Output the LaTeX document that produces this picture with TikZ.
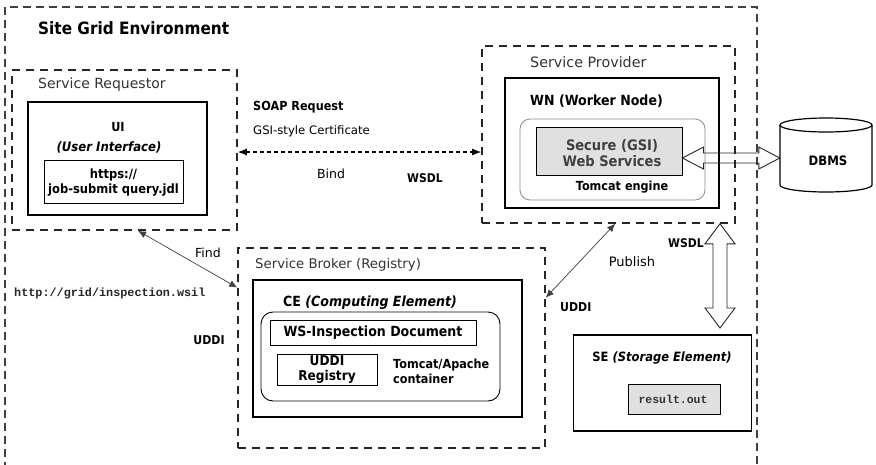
\documentclass[tikz,border=0pt]{standalone}
\usepackage{fontspec}
\setmainfont{DejaVu Sans}[BoldFeatures={FakeStretch=0.9}, BoldItalicFeatures={FakeStretch=0.9}]
\newfontfamily\monof{Liberation Mono}
\usetikzlibrary{calc,arrows.meta}
\newcommand\fsz[1]{\fontsize{#1}{#1}\selectfont}
\tikzset{
  dbox/.style={draw=black!85, line width=1.6pt, dash pattern=on 8pt off 6pt},
  obox/.style={draw=black!75, line width=1.1pt, dash pattern=on 8pt off 5pt},
  sbox/.style={draw=black, line width=1.8pt},
  tbox/.style={draw=black, line width=1pt},
  gbox/.style={draw=black, line width=1pt, fill=black!12},
  rbox/.style={draw=black, line width=0.9pt, rounded corners=12pt},
  lrbox/.style={draw=black!45, line width=0.8pt, rounded corners=10pt},
  grp/.style={text=black!80, anchor=west, inner sep=0pt},
  txt/.style={inner sep=0pt},
  thin arrow/.style={draw=black!75, line width=0.7pt, {Latex[length=8pt,width=7pt]}-{Latex[length=8pt,width=7pt]}},
  hollow/.style={draw=black!85, line width=0.9pt, fill=none, line join=miter}
}
\begin{document}
\begin{tikzpicture}[x=1pt,y=-1pt]
\useasboundingbox (0,0) rectangle (876,464);
\fill[white] (0,0) rectangle (876,464);
% outer environment
\draw[obox] (5,470) -- (5,7) -- (757,7) -- (757,470);
\node[txt, anchor=west, font=\bfseries\fsz{17}] (title) at (38,28) {Site Grid Environment};

% Service Requestor
\node[dbox, minimum width=225, minimum height=160, inner sep=0pt] (SR) at (124.5,150) {};
\node[grp, font=\fsz{14}] (SRl) at (38,85) {Service Requestor};
\node[sbox, minimum width=179, minimum height=113, inner sep=0pt] (UI) at (117.5,158.5) {};
\node[txt, font=\bfseries\fsz{12.5}] (UIl) at (118,127) {UI};
\node[txt, font=\bfseries\itshape\fsz{13}] (UIl2) at (109,147) {(User Interface)};
\node[tbox, minimum width=139, minimum height=43, inner sep=0pt] (job) at (113.5,181.5) {};
\node[txt, align=center, font=\bfseries\fontsize{12.8}{15}\selectfont] (jobl) at (113.5,183) {https://\\job-submit query.jdl};

% Service Provider
\node[dbox, minimum width=253, minimum height=177, inner sep=0pt] (SP) at (608.5,134.5) {};
\node[grp, font=\fsz{14.3}] (SPl) at (530,62) {Service Provider};
\node[sbox, minimum width=214, minimum height=130, inner sep=0pt] (WN) at (612,143) {};
\node[txt, anchor=west, font=\bfseries\fsz{14}] (WNl) at (530,101) {WN (Worker Node)};
\node[lrbox, minimum width=185, minimum height=81, inner sep=0pt] (TE) at (612.5,159.5) {};
\node[gbox, minimum width=146, minimum height=48, inner sep=0pt] (GSI) at (609,151) {};
\node[txt, align=center, font=\bfseries\fontsize{14.5}{16}\selectfont, text=black!75] (GSIl) at (612,153) {Secure (GSI)\\Web Services};
\node[txt, font=\bfseries\fsz{12.5}] (TEl) at (622,187) {Tomcat engine};

% DBMS cylinder
\draw[line width=1.2pt] (780,125) -- (780,185) arc[start angle=180, end angle=0, x radius=46, y radius=7] -- (872,125);
\draw[line width=1.2pt] (826,125) ellipse [x radius=46, y radius=7];
\node[minimum width=92, minimum height=60, inner sep=0pt] (dbms) at (826,158) {};
\node[txt, font=\bfseries\fsz{13}] (dbmsl) at (828,161) {DBMS};

% Service Broker
\node[dbox, minimum width=307, minimum height=200, inner sep=0pt] (SB) at (391.5,348) {};
\node[grp, font=\fsz{13.3}] (SBl) at (255,265) {Service Broker (Registry)};
\node[sbox, minimum width=269, minimum height=137, inner sep=0pt] (CE) at (387.5,348.5) {};
\node[txt, anchor=west, font=\bfseries\fsz{14}] (CEl) at (283,303) {CE \textit{(Computing Element)}};
\node[rbox, minimum width=239, minimum height=89, inner sep=0pt] (CT) at (380.5,356.5) {};
\node[tbox, minimum width=206, minimum height=25, inner sep=0pt] (WSI) at (373,332.5) {};
\node[txt, font=\bfseries\fsz{14}] (WSIl) at (373,333) {WS-Inspection Document};
\node[tbox, minimum width=100, minimum height=31, inner sep=0pt] (UDR) at (327,369.5) {};
\node[txt, align=center, font=\bfseries\fontsize{13.5}{15}\selectfont] (UDRl) at (327,370) {UDDI\\Registry};
\node[txt, anchor=west, align=left, font=\bfseries\fontsize{12.5}{15}\selectfont] (TAl) at (393,371) {Tomcat/Apache\\container};

% Storage Element
\node[sbox, minimum width=178, minimum height=96, inner sep=0pt] (SE) at (662.5,383) {};
\node[txt, font=\bfseries\fsz{12.8}] (SEl) at (662,358) {SE \textit{(Storage Element)}};
\node[gbox, minimum width=92, minimum height=30, inner sep=0pt] (RO) at (674.5,399) {};
\node[txt, font=\monof\bfseries\fsz{11.5}, text=black!80] (ROl) at (673,399) {result.out};

% labels
\node[txt, anchor=west, font=\bfseries\fsz{12.5}] (soap) at (253,107) {SOAP Request};
\node[txt, anchor=west, font=\fsz{11.7}] (gsil) at (253,131) {GSI-style Certificate};
\node[txt, font=\fsz{12.5}] (bind) at (331,174) {Bind};
\node[txt, font=\bfseries\fsz{12}] (wsdl1) at (425,178) {WSDL};
\node[txt, font=\fsz{12.5}] (find) at (208,253) {Find};
\node[txt, anchor=west, font=\monof\bfseries\fsz{11.8}, text=black!85] (url) at (14,293) {http://grid/inspection.wsil};
\node[txt, font=\bfseries\fsz{12.2}] (uddi1) at (209,340) {UDDI};
\node[txt, font=\fsz{13}] (pub) at (632,262) {Publish};
\node[txt, anchor=west, font=\bfseries\fsz{12.2}] (uddi2) at (560,307) {UDDI};
\node[txt, font=\bfseries\fsz{12}] (wsdl2) at (686,243) {WSDL};

% connectors
\coordinate (bindy) at (0,152);
\draw[line width=1.1pt, dash pattern=on 4pt off 3pt, {Latex[length=9pt,width=7pt]}-{Latex[length=9pt,width=7pt]}]
  (SR.east |- bindy) -- (SP.west |- bindy);
\coordinate (f1) at ($(SR.south west)!0.56!(SR.south east)$);
\coordinate (f2) at ($(SB.north west)!0.2!(SB.south west)$);
\draw[thin arrow] (f1) -- (f2);
\coordinate (p1) at ($(SB.north east)!0.25!(SB.south east)$);
\coordinate (p2) at ($(SP.south west)!0.526!(SP.south east)$);
\draw[thin arrow] (p1) -- (p2);

% hollow double arrows
\coordinate (dl) at (GSI.east |- 0,158);
\draw[hollow] (dl) -- ++(21,-11) -- ++(0,6) -- ($(dbms.west)+(-21,-5)$) -- ++(0,-6) -- (dbms.west)
  -- ++(-21,11) -- ++(0,-6) -- ($(dl)+(21,5)$) -- ++(0,6) -- cycle;
\coordinate (vt) at (SP.south -| 720,0);
\coordinate (vb) at (720,328);
\draw[hollow] (vt) -- ++(15,20) -- ++(-8,0) -- ($(vb)+(7,-20)$) -- ++(8,0) -- (vb)
  -- ++(-15,-20) -- ++(8,0) -- ($(vt)+(-7,20)$) -- ++(-8,0) -- cycle;
\end{tikzpicture}
\end{document}
